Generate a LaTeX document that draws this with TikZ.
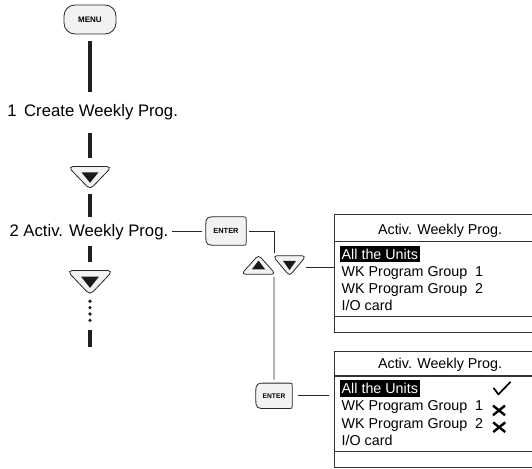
\documentclass[tikz,border=0pt]{standalone}
\usepackage{fontspec}
\setmainfont{Liberation Sans}
\usetikzlibrary{calc}
\tikzset{
  trunk/.style={line width=3.6pt, draw=black!88},
  conn/.style={line width=0.9pt, draw=black!85},
  btn/.style={draw=black!85, line width=0.8pt, fill=black!5},
  hole/.style 2 args={inner sep=0pt, minimum width=#1pt, minimum height=#2pt},
  lbl/.style={inner sep=0pt, font=\fontsize{16.7}{20}\selectfont},
  btntxt/.style={font=\bfseries\fontsize{#1}{#1}\selectfont},
  boxfr/.style={draw=black!80, line width=1.1pt, minimum width=211pt, inner sep=0pt},
  boxline/.style={draw=black!80, line width=1.1pt},
  boxtxt/.style={inner sep=0pt, font=\fontsize{14.3}{17}\selectfont},
  hilite/.style={fill=black, text=white, inner xsep=1.5pt, inner ysep=1.5pt,
     text height=12pt, text depth=1.7pt, font=\fontsize{14.3}{17}\selectfont},
  crossmark/.style={line width=2.4pt, draw=black},
  pics/arrowbtn/.style={code={
    \path[btn] (-17,0) -- (17,0) .. controls (19.5,0) and (20.2,1.6) .. (18.6,3.6)
      -- (3.2,19.6) .. controls (1.3,21.6) and (-1.3,21.6) .. (-3.2,19.6)
      -- (-18.6,3.6) .. controls (-20.2,1.6) and (-19.5,0) .. (-17,0) -- cycle;
    \fill[black!90] (-8.5,5.8) -- (8.5,5.8) -- (0,16.2) -- cycle;
  }}
}
\newcommand\EnterShape[1]{%
  \path[btn] ([xshift=10pt]#1.north west) -- ([xshift=-3pt]#1.north east)
    .. controls (#1.north east) .. ([yshift=-3pt]#1.north east)
    -- ([yshift=3pt]#1.south east) .. controls (#1.south east) .. ([xshift=-3pt]#1.south east)
    -- ([xshift=10pt]#1.south west) .. controls ([xshift=1.5pt]#1.south west) and (#1.south west) .. ([yshift=9pt]#1.south west)
    -- ([yshift=-9pt]#1.north west) .. controls (#1.north west) and ([xshift=1.5pt]#1.north west) .. ([xshift=10pt]#1.north west) -- cycle;}
\begin{document}
\begin{tikzpicture}[x=1pt,y=-1pt]
\useasboundingbox (0,0) rectangle (532,468);
\clip (0,0) rectangle (532,468);

% MENU button
\node[btn, rounded corners=11pt, minimum width=52pt, minimum height=29pt, inner sep=0pt,
      btntxt=8] (menu) at (90,19.5) {MENU};

% labels
\node[lbl, anchor=base west] (l1) at (7.2,116.7) {1\hspace{7.5pt}Create Weekly Prog.};
\node[lbl, anchor=base west] (l2) at (9.3,236.5) {2 Activ. Weekly Prog.};

% arrow buttons on the trunk
\node[hole={38}{21.5}] (d1) at (90,177.5) {};
\pic at (d1.north) {arrowbtn};
\node[hole={40}{23}] (d2) at (90,282.2) {};
\pic[xscale=1.05, yscale=1.07] at (d2.north) {arrowbtn};

% trunk segments
\draw[trunk] ($(menu.south)+(0,6.7)$) -- ($(menu |- l1.base)+(0,-25)$);
\draw[trunk] ($(menu |- l1.base)+(0,16.6)$) -- ($(d1.north)+(0,-8.4)$);
\draw[trunk] ($(d1.south)+(0,5.1)$) -- ($(menu |- l2.base)+(0,-19.2)$);
\draw[trunk] ($(menu |- l2.base)+(0,9.5)$) -- ($(d2.north)+(0,-9)$);
\foreach \dy in {7.3,13.7,20.1,26.5}
  \fill[black!88] ($(d2.south)+(0,\dy)$) circle (1.8pt);
\draw[trunk] ($(d2.south)+(0,35.6)$) -- ($(d2.south)+(0,53.3)$);

% ENTER buttons
\node[hole={40}{28}] (e1) at (226,231) {};
\EnterShape{e1}
\node[btntxt=7.4] at (e1) {ENTER};
\node[hole={36}{25}] (e2) at (274,395.8) {};
\EnterShape{e2}
\node[btntxt=6.7] at (e2) {ENTER};

% up / down pair
\node[hole={29}{18}] (u) at (258.5,265) {};
\pic[xscale=0.78, yscale=-0.84] at (u.south) {arrowbtn};
\node[hole={29}{19}] (ds) at (289.5,265.5) {};
\pic[xscale=0.76, yscale=0.88] at (ds.north) {arrowbtn};
\coordinate (udj) at ($(u.north east)!0.5!(ds.north west)$);

% boxes
\node[boxfr, minimum height=118pt, anchor=north west] (box1) at (334,214.3) {};
\draw[boxline] ([yshift=-27.4pt]box1.north west) -- ([yshift=-27.4pt]box1.north east);
\draw[boxline] ([yshift=16.6pt]box1.south west) -- ([yshift=16.6pt]box1.south east);
\node[boxtxt, anchor=base] (t1) at ([yshift=-20.3pt]box1.north) {Activ. Weekly Prog.};
\node[hilite, anchor=base west] (a1) at ([xshift=6pt,yshift=-44.7pt]box1.north west) {All the Units};
\node[boxtxt, anchor=base west] (g11) at ([xshift=7.5pt,yshift=-62pt]box1.north west) {WK Program Group\ \ 1};
\node[boxtxt, anchor=base west] (g12) at ([xshift=7.5pt,yshift=-79.3pt]box1.north west) {WK Program Group\ \ 2};
\node[boxtxt, anchor=base west] (io1) at ([xshift=7.5pt,yshift=-96.6pt]box1.north west) {I/O card};

\node[boxfr, minimum height=116pt, anchor=north west] (box2) at (334,350.7) {};
\draw[boxline] ([yshift=-25.3pt]box2.north west) -- ([yshift=-25.3pt]box2.north east);
\draw[boxline] ([yshift=16.7pt]box2.south west) -- ([yshift=16.7pt]box2.south east);
\node[boxtxt, anchor=base] (t2) at ([yshift=-17.3pt]box2.north) {Activ. Weekly Prog.};
\node[hilite, anchor=base west] (a2) at ([xshift=6pt,yshift=-42.8pt]box2.north west) {All the Units};
\node[boxtxt, anchor=base west] (g21) at ([xshift=7.5pt,yshift=-60.1pt]box2.north west) {WK Program Group\ \ 1};
\node[boxtxt, anchor=base west] (g22) at ([xshift=7.5pt,yshift=-77.4pt]box2.north west) {WK Program Group\ \ 2};
\node[boxtxt, anchor=base west] (io2) at ([xshift=7.5pt,yshift=-94.7pt]box2.north west) {I/O card};

% check and crosses
\draw[line width=1.7pt, line join=round, line cap=round] (493.8,388.2) -- (498.4,394.4) -- (510.2,382.2);
\draw[crossmark] (493,405.6) -- (505,415.2) (493,415.2) -- (505,405.6);
\draw[crossmark] (493.2,422.4) -- (505.2,432) (493.2,432) -- (505.2,422.4);

% connectors
\draw[conn] ([xshift=-4pt]e1.west) -- ($(l2.east |- e1.west)+(3.5,0)$);
\draw[conn] ([xshift=3pt]e1.east) -| ([yshift=2.5pt]udj);
\draw[conn] ($(udj |- u.south)+(0,3)$) -- ([yshift=3.5pt]e2.north);
\draw[conn] ($(ds.east)+(1.5,1.5)$) -- ($(ds.east -| box1.west)+(0,1.5)$);
\draw[conn] ([xshift=6pt]e2.east) -- ($(e2.east -| box2.west)+(-5,0)$);
\end{tikzpicture}
\end{document}
